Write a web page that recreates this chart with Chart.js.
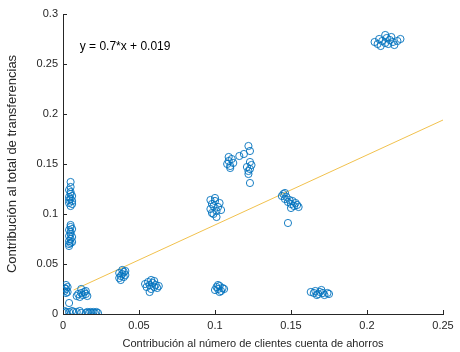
<!DOCTYPE html>
<html>
<head>
<meta charset="utf-8">
<script src="https://cdn.jsdelivr.net/npm/chart.js@4/dist/chart.umd.min.js"></script>
<style>
html,body{margin:0;padding:0;background:#fff;}
#wrap{width:460px;height:352px;position:relative;}
</style>
</head>
<body>
<div id="wrap"><canvas id="c" width="460" height="352"></canvas></div>
<script>
// x: contribution to number of savings-account clients
const contribClientes = [
  0.004,0.005,0.004,0.005,0.006,0.004,0.005,0.005,0.004,0.006,0.005,0.005,0.004,0.006,
  0.005,0.004,0.006,0.005,0.004,0.006,0.005,0.005,0.004,0.005,0.005,0.006,0.004,
  0.002,0.001,0.002,0.003,0.002,0.001,0.003,0.004,
  0.009,0.010,0.011,0.012,0.013,0.014,0.015,0.016,0.012,0.015,
  0.0005,0.001,0.002,0.004,0.006,0.007,0.009,0.011,0.012,0.015,0.016,0.017,0.018,0.019,0.020,0.021,0.022,0.023,
  0.037,0.038,0.039,0.040,0.041,0.038,0.040,0.039,0.037,0.041,
  0.054,0.055,0.056,0.057,0.058,0.059,0.060,0.061,0.062,0.063,0.057,0.060,0.058,
  0.097,0.098,0.099,0.100,0.101,0.098,0.100,0.102,0.103,0.099,0.101,0.097,0.104,
  0.100,0.101,0.102,0.103,0.104,0.105,0.106,0.103,0.102,
  0.108,0.109,0.110,0.111,0.112,0.110,0.109,0.116,0.119,0.122,0.123,0.121,0.122,0.123,0.124,0.122,0.123,0.123,
  0.144,0.145,0.146,0.147,0.148,0.149,0.150,0.151,0.152,0.153,0.154,0.155,0.146,0.150,0.148,
  0.163,0.165,0.166,0.168,0.169,0.171,0.172,0.174,0.175,0.167,0.170,
  0.205,0.207,0.209,0.210,0.212,0.213,0.214,0.215,0.217,0.218,0.220,0.222,0.212,0.208,0.216
];
// y: contribution to total transfers
const contribTransfer = [
  0.068,0.071,0.073,0.075,0.077,0.078,0.080,0.082,0.084,0.085,0.087,0.089,0.070,0.072,
  0.108,0.111,0.113,0.115,0.117,0.118,0.120,0.122,0.124,0.127,0.132,0.110,0.114,
  0.021,0.023,0.025,0.027,0.029,0.026,0.022,0.011,
  0.018,0.020,0.017,0.021,0.019,0.022,0.020,0.018,0.025,0.023,
  0.001,0.003,0.002,0.002,0.003,0.002,0.002,0.003,0.001,0.001,0.002,0.001,0.002,0.001,0.002,0.001,0.002,0.001,
  0.036,0.038,0.040,0.042,0.043,0.034,0.037,0.044,0.041,0.039,
  0.030,0.027,0.032,0.029,0.025,0.031,0.027,0.029,0.026,0.028,0.022,0.033,0.034,
  0.105,0.110,0.108,0.113,0.103,0.101,0.116,0.107,0.111,0.100,0.097,0.114,0.104,
  0.024,0.027,0.025,0.028,0.023,0.026,0.025,0.022,0.029,
  0.150,0.153,0.148,0.155,0.151,0.146,0.157,0.158,0.160,0.168,0.163,0.147,0.143,0.145,0.149,0.140,0.152,0.131,
  0.118,0.120,0.115,0.117,0.112,0.114,0.110,0.113,0.108,0.111,0.109,0.107,0.121,0.106,0.091,
  0.022,0.021,0.023,0.020,0.022,0.021,0.019,0.021,0.020,0.019,0.024,
  0.272,0.270,0.268,0.273,0.271,0.276,0.270,0.274,0.272,0.269,0.273,0.275,0.279,0.275,0.277
];
// fitted line endpoints (y = 0.7*x + 0.019)
const trendX = [0.007, 0.25];
const trendY = [0.024, 0.194];
const xTicks = [0, 0.05, 0.1, 0.15, 0.2, 0.25];
const yTicks = [0, 0.05, 0.1, 0.15, 0.2, 0.25, 0.3];
const equationText = 'y = 0.7*x + 0.019';
const equationPos = {x: 0.011, y: 0.267};
const xTitle = 'Contribución al número de clientes cuenta de ahorros';
const yTitle = 'Contribución al total de transferencias';

const pts = contribClientes.map((x, i) => ({x: x, y: contribTransfer[i]}));
const linePts = trendX.map((x, i) => ({x: x, y: trendY[i]}));
const FONT = '"Liberation Sans", Arial, sans-serif';
const AXC = '#262626';

const fmt = v => {
  if (v === 0) return '0';
  return String(+v.toFixed(2));
};

const extras = {
  id: 'extras',
  afterDraw(chart) {
    const ctx = chart.ctx;
    const xs = chart.scales.x, ys = chart.scales.y;
    const a = chart.chartArea;
    ctx.save();
    ctx.strokeStyle = AXC;
    ctx.lineWidth = 1;
    ctx.beginPath();
    xTicks.forEach(v => {
      const px = Math.round(xs.getPixelForValue(v)) + 0.5;
      ctx.moveTo(px, a.bottom);
      ctx.lineTo(px, a.bottom - 4);
    });
    yTicks.forEach(v => {
      const py = Math.round(ys.getPixelForValue(v)) + 0.5;
      ctx.moveTo(a.left, py);
      ctx.lineTo(a.left + 4, py);
    });
    ctx.stroke();
    ctx.fillStyle = '#000';
    ctx.font = '12px ' + FONT;
    ctx.textBaseline = 'middle';
    ctx.textAlign = 'left';
    ctx.fillText(equationText, xs.getPixelForValue(equationPos.x), ys.getPixelForValue(equationPos.y));
    ctx.restore();
  }
};

new Chart(document.getElementById('c'), {
  type: 'scatter',
  data: {
    datasets: [
      {
        type: 'line',
        data: linePts,
        borderColor: '#EDB120',
        borderWidth: 0.8,
        pointRadius: 0,
        fill: false,
        order: 2
      },
      {
        data: pts,
        pointStyle: 'circle',
        pointRadius: 3.6,
        pointBorderWidth: 0.9,
        pointBackgroundColor: 'rgba(0,0,0,0)',
        pointBorderColor: '#0072BD',
        order: 1
      }
    ]
  },
  options: {
    responsive: false,
    animation: false,
    devicePixelRatio: 1,
    layout: {padding: {top: 14, right: 17, left: 5, bottom: 0}},
    plugins: {legend: {display: false}, tooltip: {enabled: false}},
    scales: {
      x: {
        type: 'linear', min: 0, max: 0.25,
        afterBuildTicks: s => { s.ticks = xTicks.map(v => ({value: v})); },
        afterFit: s => { s.height = 38; },
        grid: {display: true, drawOnChartArea: false, drawTicks: false},
        border: {display: true, color: AXC, width: 1},
        ticks: {color: AXC, font: {family: FONT, size: 11}, padding: 5, callback: v => fmt(v), maxRotation: 0},
        title: {display: true, text: xTitle, color: AXC, font: {family: FONT, size: 11}, padding: {top: 0, bottom: 1}}
      },
      y: {
        type: 'linear', min: 0, max: 0.3,
        afterBuildTicks: s => { s.ticks = yTicks.map(v => ({value: v})); },
        afterFit: s => { s.width = 58; },
        grid: {display: true, drawOnChartArea: false, drawTicks: false},
        border: {display: true, color: AXC, width: 1},
        ticks: {color: AXC, font: {family: FONT, size: 11}, padding: 5, callback: v => fmt(v)},
        title: {display: true, text: yTitle, color: AXC, font: {family: FONT, size: 13}, padding: {top: 0, bottom: 4}}
      }
    }
  },
  plugins: [extras]
});
</script>
</body>
</html>
